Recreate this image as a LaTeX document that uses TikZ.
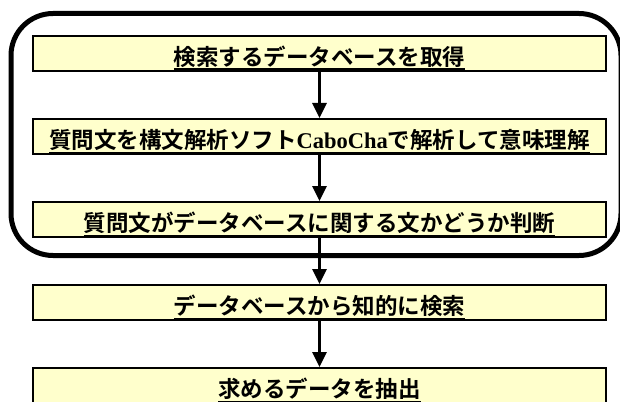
\documentclass[tikz,border=0pt]{standalone}
\usepackage{fontspec}
\newfontfamily\jp{Noto Sans CJK JP}[BoldFont={Noto Sans CJK JP Bold}]
\newfontfamily\tms{Liberation Serif}
\usetikzlibrary{arrows.meta,shadows}
\definecolor{boxfill}{HTML}{FFFFCC}
\newcommand\ulbox[1]{\setbox0\hbox{#1}\rlap{\rule[-4.3pt]{\wd0}{1.3pt}}\box0}
\tikzset{
  stepbox/.style={draw=black, line width=2pt, fill=boxfill,
    minimum width=573pt, minimum height=35pt, inner sep=0pt,
    text height=29.5pt, text depth=5.5pt,
    drop shadow={shadow xshift=1.2pt, shadow yshift=-1.2pt, fill=black!35, opacity=1},
    font=\jp\bfseries\fontsize{22.5}{24}\selectfont},
  flow/.style={line width=3pt, -{Triangle[width=14pt,length=15pt]}},
  frame/.style={line width=5pt, rounded corners=42pt}
}
\begin{document}
\begin{tikzpicture}[x=1pt,y=-1pt]
\useasboundingbox (0,0) rectangle (620,401);
\clip (0,0) rectangle (620,401);
\fill[white] (0,0) rectangle (620,401);
\draw[frame] (11,13.5) rectangle (621,255.5);
\node[stepbox] (b1) at (319.5,53.5) {\ulbox{検索するデータベースを取得}};
\node[stepbox] (b2) at (319.5,136.5) {\ulbox{質問文を構文解析ソフト{\tms\bfseries CaboCha}で解析して意味理解}};
\node[stepbox] (b3) at (319.5,219.5) {\ulbox{質問文がデータベースに関する文かどうか判断}};
\node[stepbox] (b4) at (319.5,302.5) {\ulbox{データベースから知的に検索}};
\node[stepbox] (b5) at (319.5,385.5) {\ulbox{求めるデータを抽出}};
\draw[flow] (b1.south) -- (b2.north);
\draw[flow] (b2.south) -- (b3.north);
\draw[flow] (b3.south) -- (b4.north);
\draw[flow] (b4.south) -- (b5.north);
\end{tikzpicture}
\end{document}
